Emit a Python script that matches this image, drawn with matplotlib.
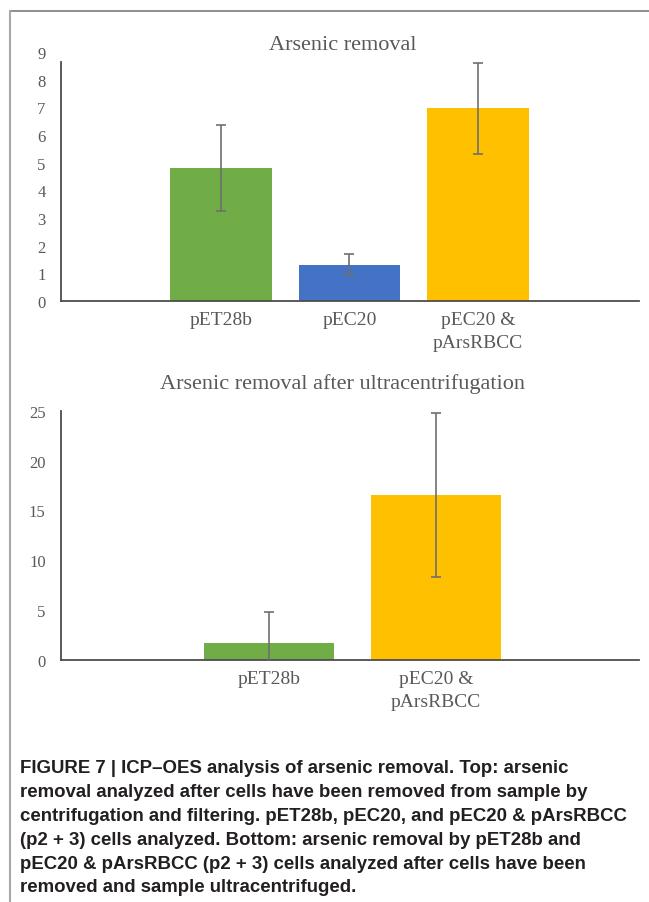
import matplotlib.pyplot as plt
from matplotlib.lines import Line2D

# top panel: arsenic removal
top_labels = ["pET28b", "pEC20", "pEC20 &\npArsRBCC"]
top_values = [4.80, 1.31, 6.97]
top_errors = [1.55, 0.385, 1.65]
top_colors = ["#70AD47", "#4472C4", "#FFC000"]
top_yticks = [0, 1, 2, 3, 4, 5, 6, 7, 8, 9]

# bottom panel: after ultracentrifugation
bot_labels = ["pET28b", "pEC20 &\npArsRBCC"]
bot_values = [1.65, 16.55]
bot_errors = [3.1, 8.2]
bot_colors = ["#70AD47", "#FFC000"]
bot_yticks = [0, 5, 10, 15, 20, 25]

caption_lines = [
    "FIGURE 7 | ICP\u2013OES analysis of arsenic removal. Top: arsenic",
    "removal analyzed after cells have been removed from sample by",
    "centrifugation and filtering. pET28b, pEC20, and pEC20 & pArsRBCC",
    "(p2 + 3) cells analyzed. Bottom: arsenic removal by pET28b and",
    "pEC20 & pArsRBCC (p2 + 3) cells analyzed after cells have been",
    "removed and sample ultracentrifuged.",
]

W, H = 649, 903
fig = plt.figure(figsize=(W / 100, H / 100), dpi=100)

SERIF = ["Liberation Serif", "DejaVu Serif"]
TXT = "#595959"
AXC = "#4d4d4d"


def style_axes(ax, labels, yticks):
    for s in ["top", "right"]:
        ax.spines[s].set_visible(False)
    for s in ["left", "bottom"]:
        ax.spines[s].set_color(AXC)
        ax.spines[s].set_linewidth(1.3)
    ax.set_yticks(yticks)
    ax.set_yticklabels([str(t) for t in yticks], family=SERIF, fontsize=12, color=TXT)
    ax.set_xticks(range(len(labels)))
    ax.set_xticklabels(labels, family=SERIF, fontsize=14, color=TXT, linespacing=1.45)
    ax.tick_params(axis="y", length=0, pad=11)
    ax.tick_params(axis="x", length=0, pad=7.5)


# top chart
ax1 = fig.add_axes([61 / W, 1 - 302 / H, 578 / W, 249 / H])
x1 = range(len(top_values))
ax1.bar(x1, top_values, width=0.79, color=top_colors, zorder=2)
ax1.errorbar(x1, top_values, yerr=top_errors, fmt="none", ecolor="#6f6f6f",
             elinewidth=1.2, capsize=3.5, capthick=1.2, zorder=3)
ax1.set_xlim(-1.245, 3.253)
ax1.set_ylim(0, 9)
style_axes(ax1, top_labels, top_yticks)
ax1.spines["left"].set_bounds(0, 8.64)
fig.text(343 / W, 1 - 46 / H, "Arsenic removal", family=SERIF, fontsize=16,
         color=TXT, ha="center", va="center")

# bottom chart
ax2 = fig.add_axes([61 / W, 1 - 660.7 / H, 578 / W, 248.7 / H])
x2 = range(len(bot_values))
ax2.bar(x2, bot_values, width=0.78, color=bot_colors, zorder=2)
ax2.errorbar(x2, bot_values, yerr=bot_errors, fmt="none", ecolor="#6f6f6f",
             elinewidth=1.2, capsize=3.5, capthick=1.2, zorder=3)
ax2.set_xlim(-1.246, 2.216)
ax2.set_ylim(0, 25)
style_axes(ax2, bot_labels, bot_yticks)
fig.text(343 / W, 1 - 384 / H, "Arsenic removal after ultracentrifugation",
         family=SERIF, fontsize=16, color=TXT, ha="center", va="center")

# outer frame (top and left edges only)
fig.add_artist(Line2D([10 / W, 1], [1 - 12 / H, 1 - 12 / H], color="#7a7a7a", lw=1.2))
fig.add_artist(Line2D([10 / W, 10 / W], [1 - 12 / H, 0], color="#a8a8a8", lw=1.5))

# caption
for i, line in enumerate(caption_lines):
    fig.text(20 / W, 1 - (769 + i * 23.8) / H, line, family=["Liberation Sans", "DejaVu Sans"],
             fontsize=13.4, fontweight="bold", color="#231f20", ha="left", va="center")

fig.savefig("out.png", dpi=100)
